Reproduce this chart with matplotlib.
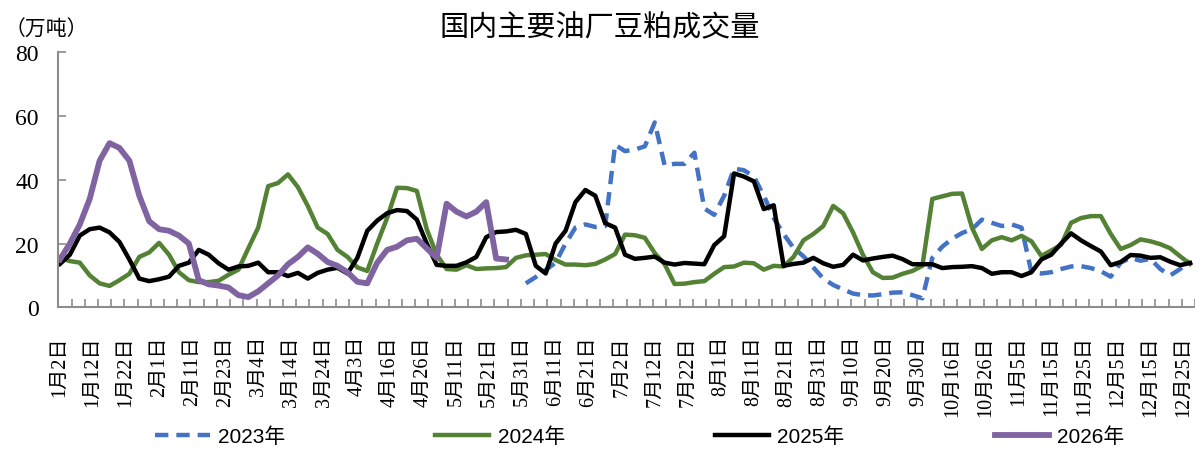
# plot.py
import matplotlib
matplotlib.use('Agg')
import matplotlib.pyplot as plt
import numpy as np

# x axis: daily category slots, labelled every 10 slots
tick_labels = ['1月2日', '1月12日', '1月22日', '2月1日', '2月11日', '2月23日', '3月4日',
               '3月14日', '3月24日', '4月3日', '4月16日', '4月26日', '5月11日', '5月21日',
               '5月31日', '6月11日', '6月21日', '7月2日', '7月12日', '7月22日', '8月1日',
               '8月11日', '8月21日', '8月31日', '9月10日', '9月20日', '9月30日', '10月16日',
               '10月26日', '11月5日', '11月15日', '11月25日', '12月5日', '12月15日', '12月25日']
n_slots = 344
step = 3          # values below are read every 3rd slot
start_2023 = 47   # first sampled slot that has 2023 data

series_names = ['2023年', '2024年', '2025年', '2026年']

v2023 = [7.5, 9.5, 11.7, 14.0, 20.0, 25.0, 26.0, 25.2, 25.5,
         51.0, 49.0, 49.5, 50.5, 58.0, 44.5, 45.0, 45.0, 48.5, 31.0,
         29.0, 35.0, 43.5, 43.0, 41.0, 35.0, 28.0, 23.0, 18.6, 16.0,
         12.5, 9.0, 7.0, 5.6, 4.3, 3.8, 3.7, 4.1, 4.6, 4.7,
         3.8, 2.8, 15.5, 19.0, 21.5, 23.3, 24.5, 27.5, 26.5, 25.5,
         26.0, 25.0, 11.0, 10.6, 11.0, 12.0, 12.8, 12.9, 12.3, 11.3,
         9.6, 14.0, 15.5, 14.6, 15.2, 12.0, 10.0, 12.0, 14.5]

v2024 = [15.5, 14.5, 14.0, 10.0, 7.5, 6.7, 8.5, 10.5, 15.8, 17.2,
         20.2, 16.5, 11.0, 8.5, 7.9, 7.9, 8.3, 10.2, 11.8, 18.5,
         25.0, 38.0, 39.0, 41.7, 37.7, 31.8, 25.0, 23.0, 18.0, 15.8,
         12.5, 11.4, 20.0, 28.0, 37.5, 37.4, 36.5, 24.5, 16.5, 12.0,
         11.8, 13.2, 12.0, 12.2, 12.3, 12.6, 15.5, 16.3, 16.5, 16.7,
         14.8, 13.4, 13.4, 13.2, 13.6, 15.0, 16.7, 22.8, 22.6, 21.8,
         17.0, 13.5, 7.3, 7.4, 7.9, 8.2, 10.5, 12.6, 12.8, 14.0,
         13.8, 11.8, 13.0, 12.8, 15.8, 21.0, 23.0, 25.5, 31.8, 29.5,
         23.5, 16.5, 11.0, 9.2, 9.3, 10.5, 11.4, 13.0, 34.0, 34.8,
         35.6, 35.7, 25.0, 18.3, 21.0, 22.0, 21.0, 22.4, 20.7, 16.1,
         17.8, 19.6, 26.5, 28.0, 28.6, 28.6, 23.0, 18.3, 19.5, 21.3,
         20.7, 19.8, 18.5, 16.0, 13.6]

v2025 = [13.6, 16.5, 22.5, 24.5, 25.0, 23.5, 20.5, 15.0, 9.0, 8.2,
         8.8, 9.6, 13.0, 14.0, 18.0, 16.5, 13.8, 11.8, 12.8, 13.0,
         14.0, 11.0, 11.0, 9.8, 10.8, 9.0, 10.8, 11.8, 12.4, 10.6,
         15.5, 24.0, 27.2, 29.5, 30.5, 30.2, 27.5, 20.0, 13.3, 13.0,
         13.0, 14.1, 15.8, 22.0, 23.6, 23.8, 24.3, 23.0, 13.0, 10.6,
         20.0, 24.0, 33.0, 36.8, 35.0, 26.4, 25.0, 16.5, 15.2, 15.5,
         15.9, 14.0, 13.4, 13.9, 13.7, 13.5, 19.5, 22.3, 42.0, 41.0,
         39.5, 30.8, 32.0, 13.0, 13.6, 14.0, 15.5, 13.8, 12.7, 13.3,
         16.5, 14.7, 15.3, 15.8, 16.2, 15.1, 13.5, 13.5, 13.5, 12.3,
         12.6, 12.7, 12.9, 12.3, 10.5, 11.0, 11.0, 9.8, 11.0, 15.0,
         16.5, 20.0, 23.2, 21.0, 19.2, 17.5, 13.2, 14.2, 16.4, 16.2,
         15.5, 15.7, 14.3, 13.2, 13.9]

v2026 = [15.0, 20.0, 26.0, 34.0, 46.0, 51.5, 50.0, 46.0, 35.0, 27.0,
         24.5, 24.0, 22.5, 20.0, 8.5, 7.2, 6.8, 6.2, 3.8, 3.2,
         5.0, 7.5, 10.0, 13.5, 15.8, 18.8, 16.8, 14.2, 13.0, 11.0,
         8.0, 7.5, 14.0, 18.0, 19.0, 21.0, 21.5, 18.5, 15.5, 32.5,
         30.0, 28.5, 30.0, 33.0, 15.3, 15.0]

grey = '#8c8c8c'
cjk = 'Noto Sans CJK SC'

fig = plt.figure(figsize=(11.95, 4.52), dpi=100)
ax = fig.add_axes([0.0488, 0.318, 0.9512, 0.564])

slots = np.arange(0, n_slots, step)
x23 = slots[start_2023:start_2023 + len(v2023)]

l1, = ax.plot(x23, v2023, color='#4472C4', lw=3.2, linestyle=(0, (3, 1.8)))
l2, = ax.plot(slots[:len(v2024)], v2024, color='#548235', lw=3.2)
l3, = ax.plot(slots[:len(v2025)], v2025, color='black', lw=3.2)
l4, = ax.plot(slots[:len(v2026)], v2026, color='#8064A2', lw=4.2)

ax.set_xlim(-0.5, n_slots - 0.5)
ax.set_ylim(0, 80)
ax.set_yticks([0, 20, 40, 60, 80])
ax.set_yticklabels(['0', '20', '40', '60', '80'], family='Liberation Serif', fontsize=17)

ax.set_xticks(np.arange(len(tick_labels)) * 10)
ax.set_xticklabels(tick_labels, rotation=90, fontsize=14.5,
                   family=['Liberation Serif', cjk])
ax.set_xticks(np.arange(3.5, n_slots, 4), minor=True)
ax.tick_params(axis='x', which='major', length=0, pad=20)
ax.tick_params(axis='x', which='minor', direction='in', length=6, width=1.2, color=grey)
ax.tick_params(axis='y', direction='in', length=6, width=1.2, color=grey, pad=14)

for s in ['top', 'right']:
    ax.spines[s].set_visible(False)
for s in ['left', 'bottom']:
    ax.spines[s].set_color(grey)
    ax.spines[s].set_linewidth(1.5)

fig.text(0.502, 0.938, '国内主要油厂豆粕成交量', ha='center', va='center',
         fontsize=21, family=[cjk])
fig.text(0.0385, 0.934, '（万吨）', ha='center', va='center', fontsize=15, family=[cjk])

fig.legend([l1, l2, l3, l4], series_names, loc='center',
           bbox_to_anchor=(640 / 1195, 1 - 437 / 452), ncol=4, frameon=False,
           handlelength=2.6, handletextpad=0.4, columnspacing=7.2,
           prop={'family': ['Liberation Sans', cjk], 'size': 15})

fig.savefig('out.png', dpi=100)
